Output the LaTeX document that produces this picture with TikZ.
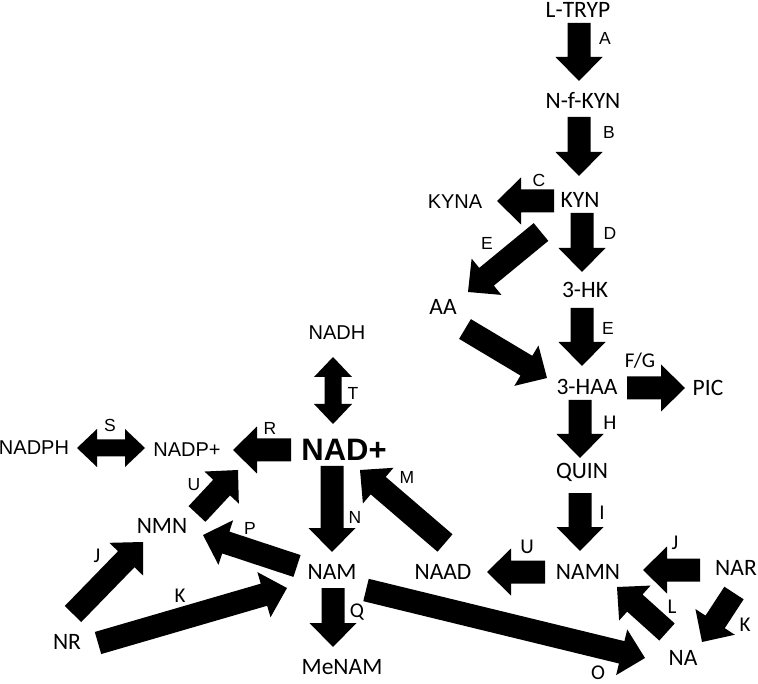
\documentclass[tikz,border=0pt]{standalone}
\usepackage{fontspec}
\setmainfont{Liberation Sans}
\newfontfamily\calf{Carlito}
\usetikzlibrary{calc}
\newcommand\blkarrow[2]{%
  \coordinate (hbx) at ($(#2)!24pt!(#1)$);
  \fill[black] ($(#1)!11.5pt!90:(#2)$) -- ($(hbx)!11.5pt!90:(#2)$) -- ($(hbx)!23.5pt!90:(#2)$) -- (#2)
    -- ($(hbx)!23.5pt!-90:(#2)$) -- ($(hbx)!11.5pt!-90:(#2)$) -- ($(#1)!11.5pt!-90:(#2)$) -- cycle;}
\newcommand\dblarrow[2]{%
  \coordinate (hax) at ($(#1)!20pt!(#2)$);
  \coordinate (hbx) at ($(#2)!20pt!(#1)$);
  \fill[black] (#1) -- ($(hax)!19pt!90:(#2)$) -- ($(hax)!8.5pt!90:(#2)$) -- ($(hbx)!8.5pt!90:(#2)$) -- ($(hbx)!19pt!90:(#2)$) -- (#2)
    -- ($(hbx)!19pt!-90:(#2)$) -- ($(hbx)!8.5pt!-90:(#2)$) -- ($(hax)!8.5pt!-90:(#2)$) -- ($(hax)!19pt!-90:(#2)$) -- cycle;}
\tikzset{
  ar/.style={font=\fontsize{20}{20}\selectfont, inner sep=0pt},
  ca/.style={font=\fontsize{23.5}{23.5}\selectfont\calf, inner sep=0pt},
  lab/.style={font=\fontsize{17.5}{17.5}\selectfont, inner sep=0pt},
  labc/.style={font=\fontsize{21}{21}\selectfont\calf, inner sep=0pt},
  big/.style={font=\fontsize{31}{31}\selectfont\bfseries, inner sep=0pt},
}
\begin{document}
\begin{tikzpicture}[x=1pt,y=-1pt]
\useasboundingbox (0,0) rectangle (758,684);
% metabolites
\node[ca] (ltryp) at (578,10) {L-TRYP};
\node[ca] (nfkyn) at (583,100) {N-f-KYN};
\node[ca] (kyn) at (580,200) {KYN};
\node[ar] (kyna) at (455,202) {KYNA};
\node[ca] (aa) at (443,307) {AA};
\node[ca] (hk) at (585,290) {3-HK};
\node[ca] (haa) at (587,387) {3-HAA};
\node[ca] (pic) at (708,388) {PIC};
\node[ca] (quin) at (582,472) {QUIN};
\node[ca] (namn) at (588,572) {NAMN};
\node[ca] (naad) at (443,572) {NAAD};
\node[ca] (nar) at (736,568) {NAR};
\node[ca] (na) at (683,658) {NA};
\node[ar] (nadh) at (337,333) {NADH};
\node[big] (nad) at (344,450) {NAD+};
\node[ar] (nadp) at (187,450) {NADP+};
\node[ar] (nadph) at (34,448) {NADPH};
\node[ca] (nmn) at (162,526) {NMN};
\node[ca] (nam) at (332,572) {NAM};
\node[ca] (menam) at (342,667) {MeNAM};
\node[ca] (nr) at (67,642) {NR};
% arrow end points
\coordinate (As) at (579,23);  \coordinate (Ae) at (579,81);
\coordinate (Bs) at (579,117); \coordinate (Be) at (579,176);
\coordinate (Cs) at (554,201); \coordinate (Ce) at (497,201);
\coordinate (E1s) at (541,232); \coordinate (E1e) at (468,292);
\coordinate (Ds) at (582,213); \coordinate (De) at (582,272);
\coordinate (E2s) at (582,308); \coordinate (E2e) at (582,366);
\coordinate (AAs) at (465,329); \coordinate (AAe) at (547,378);
\coordinate (FGs) at (627,388); \coordinate (FGe) at (685,388);
\coordinate (Hs) at (580,400); \coordinate (He) at (580,458);
\coordinate (Is) at (580,493); \coordinate (Ie) at (580,551);
\coordinate (Urs) at (545,572); \coordinate (Ure) at (487,572);
\coordinate (Jrs) at (700,570); \coordinate (Jre) at (643,570);
\coordinate (Ls) at (667,632); \coordinate (Le) at (617,587);
\coordinate (Krs) at (734,593); \coordinate (Kre) at (702,642);
\coordinate (Os) at (366,590); \coordinate (Oe) at (645,658);
\coordinate (Ms) at (445,543); \coordinate (Me) at (360,470);
\coordinate (Ns) at (332,466); \coordinate (Ne) at (332,552);
\coordinate (Qs) at (333,588); \coordinate (Qe) at (333,647);
\coordinate (Ps) at (297,566); \coordinate (Pe) at (203,535);
\coordinate (Kls) at (98,643); \coordinate (Kle) at (287,588);
\coordinate (Jls) at (73,614); \coordinate (Jle) at (143,542);
\coordinate (Uls) at (197,514); \coordinate (Ule) at (238,470);
\coordinate (Rs) at (291,450); \coordinate (Re) at (233,450);
\coordinate (Ss) at (77,448); \coordinate (Se) at (145,448);
\coordinate (Ts) at (333,357); \coordinate (Te) at (333,424);
% arrows
\blkarrow{As}{Ae}
\blkarrow{Bs}{Be}
\blkarrow{Cs}{Ce}
\blkarrow{E1s}{E1e}
\blkarrow{Ds}{De}
\blkarrow{E2s}{E2e}
\blkarrow{AAs}{AAe}
\blkarrow{FGs}{FGe}
\blkarrow{Hs}{He}
\blkarrow{Is}{Ie}
\blkarrow{Urs}{Ure}
\blkarrow{Jrs}{Jre}
\blkarrow{Ls}{Le}
\blkarrow{Krs}{Kre}
\blkarrow{Os}{Oe}
\blkarrow{Ms}{Me}
\blkarrow{Ns}{Ne}
\blkarrow{Qs}{Qe}
\blkarrow{Ps}{Pe}
\blkarrow{Kls}{Kle}
\blkarrow{Jls}{Jle}
\blkarrow{Uls}{Ule}
\blkarrow{Rs}{Re}
\dblarrow{Ss}{Se}
\dblarrow{Ts}{Te}
% enzyme labels
\node[lab] (lA) at (605,38) {A};
\node[lab] (lB) at (609,132) {B};
\node[lab] (lC) at (539,180) {C};
\node[lab] (lD) at (610,233) {D};
\node[lab] (lE1) at (487,243) {E};
\node[lab] (lE2) at (608,328) {E};
\node[labc] (lFG) at (640,361) {F/G};
\node[labc] (lH) at (610,423) {H};
\node[labc] (lI) at (602,513) {I};
\node[labc] (lUr) at (527,547) {U};
\node[labc] (lJr) at (675,543) {J};
\node[labc] (lL) at (672,607) {L};
\node[labc] (lKr) at (745,625) {K};
\node[labc] (lO) at (598,673) {O};
\node[lab] (lM) at (407,477) {M};
\node[lab] (lN) at (355,517) {N};
\node[labc] (lQ) at (357,612) {Q};
\node[lab] (lP) at (250,528) {P};
\node[labc] (lKl) at (180,596) {K};
\node[labc] (lJl) at (97,556) {J};
\node[lab] (lUl) at (194,485) {U};
\node[lab] (lR) at (270,428) {R};
\node[lab] (lS) at (110,425) {S};
\node[lab] (lT) at (353,393) {T};
\end{tikzpicture}
\end{document}
